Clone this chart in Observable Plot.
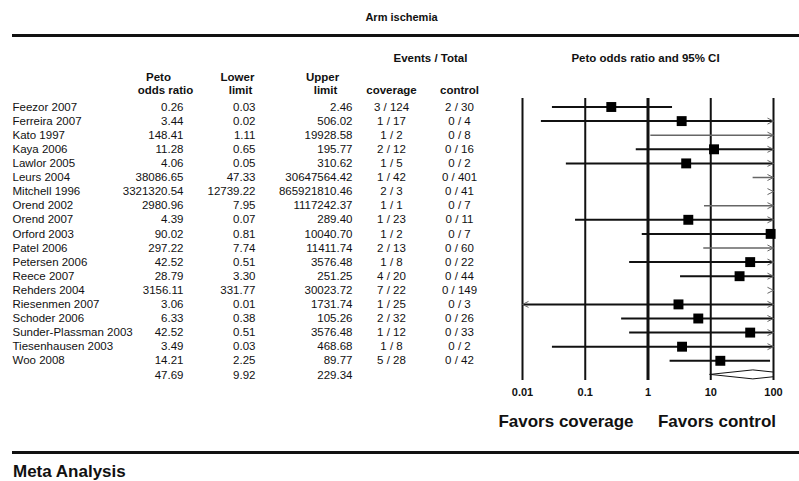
<!DOCTYPE html>
<html><head><meta charset="utf-8">
<script src="https://cdn.jsdelivr.net/npm/d3@7"></script>
<script src="https://cdn.jsdelivr.net/npm/@observablehq/plot@0.6"></script>
<style>
body{margin:0;background:#fff;}
#chart{position:relative;width:799px;height:481px;overflow:hidden;font-family:"Liberation Sans",Arial,sans-serif;color:#111;background:#fff;}
#chart svg{position:absolute;left:0;top:0;}
.abs{position:absolute;white-space:nowrap;font-weight:bold;}
.rule{position:absolute;background:#111;}
</style></head><body><div id="chart"></div>
<script>
// ---- data ----
const studies = ["Feezor 2007","Ferreira 2007","Kato 1997","Kaya 2006","Lawlor 2005","Leurs 2004","Mitchell 1996","Orend 2002","Orend 2007","Orford 2003","Patel 2006","Petersen 2006","Reece 2007","Rehders 2004","Riesenmen 2007","Schoder 2006","Sunder-Plassman 2003","Tiesenhausen 2003","Woo 2008"];
const oddsRatio = [0.26,3.44,148.41,11.28,4.06,38086.65,3321320.54,2980.96,4.39,90.02,297.22,42.52,28.79,3156.11,3.06,6.33,42.52,3.49,14.21];
const lowerLimit = [0.03,0.02,1.11,0.65,0.05,47.33,12739.22,7.95,0.07,0.81,7.74,0.51,3.30,331.77,0.01,0.38,0.51,0.03,2.25];
const upperLimit = [2.46,506.02,19928.58,195.77,310.62,30647564.42,865921810.46,1117242.37,289.40,10040.70,11411.74,3576.48,251.25,30023.72,1731.74,105.26,3576.48,468.68,89.77];
const coverageEvents = [3,1,1,2,1,1,2,1,1,1,2,1,4,7,1,2,1,1,5];
const coverageTotal  = [124,17,2,12,5,42,3,1,23,2,13,8,20,22,25,32,12,8,28];
const controlEvents  = [2,0,0,0,0,0,0,0,0,0,0,0,0,0,0,0,0,0,0];
const controlTotal   = [30,4,8,16,2,401,41,7,11,7,60,22,44,149,3,26,33,2,42];
const summaryValues = [47.69, 9.92, 229.34]; // odds ratio, lower, upper
const xTicks = [0.01, 0.1, 1, 10, 100];

// ---- layout ----
const W = 799, H = 481;
const rowTop = 106.5, rowStep = 14.1;
const nRows = studies.length;
const yScale = {type: "linear", domain: [0, nRows - 1], range: [rowTop, rowTop + rowStep * (nRows - 1)], axis: null};
const rowAt = px => (px - rowTop) / rowStep;
const xMin = xTicks[0], xMax = xTicks[xTicks.length - 1];
const font = "'Liberation Sans', Arial, sans-serif";
const fmt = v => v.toFixed(2);

const rows = studies.map((name, i) => ({
  i, name, or: oddsRatio[i], lo: lowerLimit[i], hi: upperLimit[i],
  cov: `${coverageEvents[i]} / ${coverageTotal[i]}`,
  ctl: `${controlEvents[i]} / ${controlTotal[i]}`
}));
const sumRow = {i: nRows, or: summaryValues[0], lo: summaryValues[1], hi: summaryValues[2]};
const numRows = rows.concat([sumRow]);

const col = {name: 12, or: 183, lo: 255, hi: 352, cov: 391, ctl: 459};

// ---- table plot ----
const tablePlot = Plot.plot({
  width: W, height: H, margin: 0,
  x: {type: "linear", domain: [0, W], range: [0, W], axis: null},
  y: yScale,
  style: {background: "transparent", fontFamily: font, fontSize: "11.5px", color: "#111"},
  marks: [
    Plot.text(rows, {x: col.name, y: "i", text: "name", textAnchor: "start"}),
    Plot.text(numRows, {x: col.or, y: "i", text: d => fmt(d.or), textAnchor: "end"}),
    Plot.text(numRows, {x: col.lo, y: "i", text: d => fmt(d.lo), textAnchor: "end"}),
    Plot.text(numRows, {x: col.hi, y: "i", text: d => fmt(d.hi), textAnchor: "end"}),
    Plot.text(rows, {x: col.cov, y: "i", text: "cov", textAnchor: "middle"}),
    Plot.text(rows, {x: col.ctl, y: "i", text: "ctl", textAnchor: "middle"}),
    // headers
    Plot.text(["Peto", "Lower", "Upper"], {x: [158, 237, 322], y: rowAt(77), text: d => d, fontWeight: "bold"}),
    Plot.text(["odds ratio", "limit", "limit", "coverage", "control"], {x: [165, 240, 325, col.cov, col.ctl], y: rowAt(89.5), text: d => d, fontWeight: "bold"}),
    Plot.text(["Events / Total", "Peto odds ratio and 95% CI"], {x: [430, 645], y: rowAt(58), text: d => d, fontWeight: "bold"}),
    Plot.text(["Arm ischemia"], {x: 401, y: rowAt(17), text: d => d, fontWeight: "bold", fontSize: 11})
  ]
});

// ---- forest plot ----
const inRange = rows.filter(d => d.or >= xMin && d.or <= xMax);
const outRange = rows.filter(d => (d.or < xMin || d.or > xMax) && d.lo < xMax && d.hi > xMin);
const clip = v => Math.max(xMin, Math.min(xMax, v));
const rightArrows = rows.filter(d => d.hi > xMax);
const leftArrows = rows.filter(d => d.lo <= xMin);

const chevronRight = {draw(ctx, size) { const s = Math.sqrt(size) / 2; ctx.moveTo(-2 * s, -s); ctx.lineTo(0, 0); ctx.lineTo(-2 * s, s); }};
const chevronLeft = {draw(ctx, size) { const s = Math.sqrt(size) / 2; ctx.moveTo(2 * s, -s); ctx.lineTo(0, 0); ctx.lineTo(2 * s, s); }};

const dHalf = 4.5 / rowStep;
const L = Math.log;
const fRight = (L(sumRow.hi) - L(xMax)) / (L(sumRow.hi) - L(sumRow.or));
const diamond = [
  {x: sumRow.lo, y1: sumRow.i, y2: sumRow.i},
  {x: sumRow.or, y1: sumRow.i - dHalf, y2: sumRow.i + dHalf},
  {x: clip(sumRow.hi), y1: sumRow.i - dHalf * (sumRow.hi > xMax ? fRight : 0), y2: sumRow.i + dHalf * (sumRow.hi > xMax ? fRight : 0)}
];

const forestPlot = Plot.plot({
  width: W, height: H, marginTop: 98, marginBottom: 101, marginLeft: 0, marginRight: 0,
  x: {type: "log", domain: [xMin, xMax], range: [522, 773], axis: null},
  y: yScale,
  style: {background: "transparent", fontFamily: font, color: "#111"},
  marks: [
    Plot.ruleX(xTicks, {stroke: "#111", strokeWidth: d => d === 1 ? 3 : 2}),
    Plot.ruleY(outRange, {y: "i", x1: d => clip(d.lo), x2: d => clip(d.hi), stroke: "#666", strokeWidth: 1.5}),
    Plot.ruleY(inRange, {y: "i", x1: d => clip(d.lo), x2: d => clip(d.hi), stroke: "#111", strokeWidth: 2}),
    Plot.dot(rightArrows, {x: () => xMax, y: "i", symbol: chevronRight, r: 3.4, fill: "none", stroke: "#666", strokeWidth: 1}),
    Plot.dot(leftArrows, {x: () => xMin, y: "i", symbol: chevronLeft, r: 3.4, fill: "none", stroke: "#666", strokeWidth: 1}),
    Plot.dot(inRange, {x: "or", y: "i", symbol: "square", r: 5.6, fill: "#000", stroke: "none"}),
    Plot.areaY(diamond, {x: "x", y1: "y1", y2: "y2", fill: "white", stroke: "#111", strokeWidth: 1}),
    Plot.axisX({ticks: xTicks, anchor: "bottom", tickSize: 0, tickPadding: 8, tickFormat: d => String(d), fontWeight: "bold", fontSize: 11, label: null})
  ]
});

const chart = document.getElementById("chart");
chart.appendChild(tablePlot);
chart.appendChild(forestPlot);

function addDiv(cls, css, text) {
  const el = document.createElement("div");
  el.className = cls;
  el.style.cssText = css;
  if (text) el.textContent = text;
  chart.appendChild(el);
}
addDiv("rule", "left:12px;top:34px;width:787px;height:3px;");
addDiv("rule", "left:12px;top:451px;width:787px;height:3px;");
addDiv("abs", "left:466px;width:200px;text-align:center;top:412px;font-size:17px;line-height:20px;", "Favors coverage");
addDiv("abs", "left:617px;width:200px;text-align:center;top:412px;font-size:17px;line-height:20px;", "Favors control");
addDiv("abs", "left:13px;top:462px;font-size:17px;line-height:20px;", "Meta Analysis");
</script>
</body></html>
